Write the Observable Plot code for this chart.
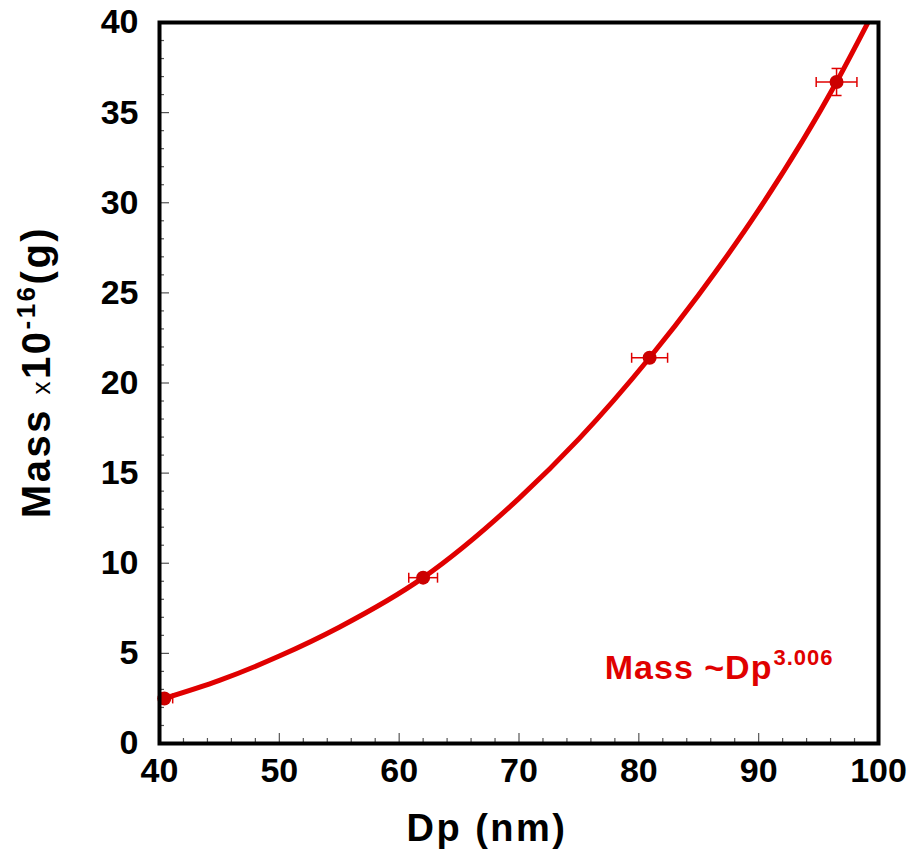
<!DOCTYPE html>
<html>
<head>
<meta charset="utf-8">
<script src="https://cdn.jsdelivr.net/npm/d3@7"></script>
<script src="https://cdn.jsdelivr.net/npm/@observablehq/plot@0.6"></script>
<style>
  html, body { margin: 0; padding: 0; background: #fff; }
</style>
</head>
<body>
<div id="chart"></div>
<script>
// Measured points
const dp = [40.4, 62.0, 80.9, 96.5];
const mass = [2.5, 9.2, 21.4, 36.7];
const dpErr = [0.7, 1.2, 1.5, 1.7];
const massErr = [0, 0, 0, 0.75];

// Fitted curve (Mass ~ Dp^3.006)
const fitDp = [40.4, 45, 50, 55, 62, 70, 75, 80.9, 85, 90, 96.5, 99.2];
const fitMass = [2.5, 3.5, 4.85, 6.45, 9.2, 13.6, 16.9, 21.4, 24.9, 29.6, 36.7, 40.1];

// Tick values
const xMajor = [40, 50, 60, 70, 80, 90, 100];
const yMajor = [0, 5, 10, 15, 20, 25, 30, 35, 40];
const xMinor = d3.range(42, 100, 2).filter(v => v % 10 !== 0);
const yMinor = d3.range(1, 40, 1).filter(v => v % 5 !== 0);

const points = dp.map((d, i) => ({dp: d, mass: mass[i], ex: dpErr[i], ey: massErr[i]}));
const fit = fitDp.map((d, i) => ({dp: d, mass: fitMass[i]}));
const yErrPts = points.filter(d => d.ey > 0);

const vCap = {draw(ctx, size) { const r = 5; ctx.moveTo(0, -r); ctx.lineTo(0, r); }};
const hCap = {draw(ctx, size) { const r = 5; ctx.moveTo(-r, 0); ctx.lineTo(r, 0); }};

const curveColor = "#e00000";
const dotColor = "#cc0000";

const chart = Plot.plot({
  width: 914,
  height: 856,
  marginLeft: 159,
  marginRight: 36,
  marginTop: 22,
  marginBottom: 113,
  style: {fontFamily: "'Liberation Sans', Arial, sans-serif", fontSize: "34px", fontWeight: "bold", color: "#000", background: "#fff"},
  x: {domain: [40, 100]},
  y: {domain: [0, 40]},
  marks: [
    // minor ticks (inward)
    Plot.axisX({ticks: xMinor, tickSize: -5, text: null, stroke: "#555", strokeWidth: 1.2, label: null}),
    Plot.axisY({ticks: yMinor, tickSize: -5, text: null, stroke: "#555", strokeWidth: 1.2, label: null}),
    // major ticks (inward) + labels
    Plot.axisX({ticks: xMajor, tickSize: -10, tickPadding: 24, stroke: "#555", strokeWidth: 1.2, label: null, tickFormat: d => d, fill: "#000"}),
    Plot.axisY({ticks: yMajor, tickSize: -10, tickPadding: 31, stroke: "#555", strokeWidth: 1.2, label: null, tickFormat: d => d, fill: "#000"}),
    // fitted curve
    Plot.line(fit, {x: "dp", y: "mass", stroke: curveColor, strokeWidth: 5, curve: "monotone-x", clip: true}),
    // error bars
    Plot.link(points, {x1: d => d.dp - d.ex, x2: d => d.dp + d.ex, y1: "mass", y2: "mass", stroke: curveColor, strokeWidth: 1.5, clip: true}),
    Plot.dot(points.filter(d => d.dp - d.ex >= 40), {x: d => d.dp - d.ex, y: "mass", symbol: vCap, stroke: curveColor, strokeWidth: 1.5, r: 5}),
    Plot.dot(points, {x: d => d.dp + d.ex, y: "mass", symbol: vCap, stroke: curveColor, strokeWidth: 1.5, r: 5}),
    Plot.link(yErrPts, {x1: "dp", x2: "dp", y1: d => d.mass - d.ey, y2: d => d.mass + d.ey, stroke: curveColor, strokeWidth: 1.5}),
    Plot.dot(yErrPts, {x: "dp", y: d => d.mass - d.ey, symbol: hCap, stroke: curveColor, strokeWidth: 1.5, r: 5}),
    Plot.dot(yErrPts, {x: "dp", y: d => d.mass + d.ey, symbol: hCap, stroke: curveColor, strokeWidth: 1.5, r: 5}),
    // data points
    Plot.dot(points, {x: "dp", y: "mass", r: 7, fill: dotColor, stroke: "none"}),
    // frame
    Plot.frame({stroke: "#000", strokeWidth: 4})
  ]
});

const svg = d3.select(chart);
const xs = chart.scale("x"), ys = chart.scale("y");

// x-axis title
svg.append("text")
  .attr("x", 487).attr("y", 841)
  .attr("text-anchor", "middle")
  .attr("font-size", 38).attr("font-weight", "bold")
  .attr("letter-spacing", 2.5)
  .text("Dp (nm)");

// y-axis title with superscript
const yl = svg.append("text")
  .attr("transform", "translate(50,372) rotate(-90)")
  .attr("text-anchor", "middle")
  .attr("font-size", 40).attr("font-weight", "bold")
  .attr("letter-spacing", 2.5);
yl.append("tspan").text("Mass ");
yl.append("tspan").attr("font-size", 26).attr("font-weight", "normal").text("x");
yl.append("tspan").text("10");
yl.append("tspan").attr("font-size", 26).attr("dy", -15).text("-16");
yl.append("tspan").attr("dy", 15).text("(g)");

// annotation
const ann = svg.append("text")
  .attr("x", xs.apply(77.2)).attr("y", ys.apply(3.55))
  .attr("text-anchor", "start")
  .attr("fill", curveColor)
  .attr("font-size", 34).attr("font-weight", "bold")
  .attr("letter-spacing", 1);
ann.append("tspan").text("Mass ~Dp");
ann.append("tspan").attr("font-size", 22).attr("dy", -14).attr("dx", 1).text("3.006");

document.getElementById("chart").appendChild(chart);
</script>
</body>
</html>
